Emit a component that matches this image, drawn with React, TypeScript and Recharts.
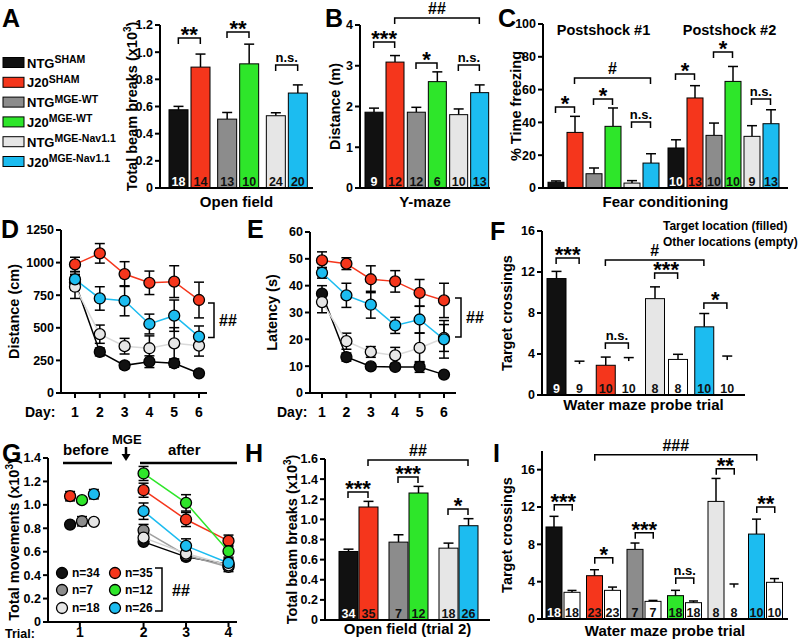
import React from 'react'
import {
  BarChart, Bar, XAxis, YAxis, ReferenceLine,
  LineChart, Line, ErrorBar, ScatterChart, Scatter,
} from 'recharts'

const FONT = '"Liberation Sans", Arial, Helvetica, sans-serif'
const BLACK = '#111111'
const RED = '#f5361c'
const GRAY = '#8c8c8c'
const GREEN = '#2ee62a'
const LGRAY = '#e6e6e6'
const BLUE = '#1cbcf0'
const WHITE = '#ffffff'

// A: open field
const condA = ['SHAM', 'MGE-WT', 'MGE-Nav1.1']
const ntgA = [0.576, 0.507, 0.532]
const ntgErrA = [0.025, 0.049, 0.022]
const ntgNA = [18, 13, 24]
const j20A = [0.89, 0.914, 0.699]
const j20ErrA = [0.096, 0.145, 0.06]
const j20NA = [14, 10, 20]

// B: Y-maze
const ntgB = [1.86, 1.86, 1.8]
const ntgErrB = [0.1, 0.12, 0.14]
const ntgNB = [9, 12, 10]
const j20B = [3.09, 2.61, 2.34]
const j20ErrB = [0.16, 0.24, 0.19]
const j20NB = [12, 6, 13]

// C: fear conditioning
const shockC = ['Postshock #1', 'Postshock #2']
const ntgShamC = [3.5, 24.4]
const ntgShamErrC = [0.8, 5]
const j20ShamC = [33.9, 54.9]
const j20ShamErrC = [9.8, 7.5]
const ntgWtC = [8.7, 32.1]
const ntgWtErrC = [3.5, 7.5]
const j20WtC = [37.6, 65]
const j20WtErrC = [11.2, 9.1]
const ntgNavC = [3, 31.5]
const ntgNavErrC = [1.5, 6.5]
const j20NavC = [15.2, 39.2]
const j20NavErrC = [5.7, 8.5]
const nC = [[null, 10], [null, 13], [null, 10], [null, 10], [null, 9], [null, 13]]

// D, E: water maze training
const days = [1, 2, 3, 4, 5, 6]
const distBlack = [850, 315, 212, 240, 228, 151]
const distBlackErr = [60, 30, 25, 45, 30, 20]
const distGray = [815, 451, 359, 343, 381, 363]
const distGrayErr = [90, 70, 60, 95, 120, 80]
const distBlue = [871, 725, 707, 529, 593, 432]
const distBlueErr = [60, 90, 115, 76, 120, 82]
const distRed = [986, 1071, 912, 845, 854, 713]
const distRedErr = [55, 75, 95, 90, 122, 137]

const latBlack = [37, 13.4, 9.9, 9.7, 9.7, 6.85]
const latBlackErr = [3, 1.5, 1, 1, 2, 1]
const latGray = [33.9, 19.3, 15.3, 14.0, 16.8, 20.5]
const latGrayErr = [4, 3, 2, 3, 5.5, 5]
const latBlue = [44.8, 36.4, 32.9, 25.2, 27.4, 20.0]
const latBlueErr = [2, 4.5, 5, 3, 5, 7]
const latRed = [49.4, 48.2, 42.4, 41.6, 37.3, 34.5]
const latRedErr = [3.2, 2.2, 5, 4, 5, 6.4]

// F: probe trial
const groupsF = ['NTG-SHAM', 'J20-SHAM', 'NTG-Nav1.1', 'J20-Nav1.1']
const targetF = [11.36, 2.9, 9.4, 6.65]
const targetErrF = [0.7, 0.8, 1.15, 1.3]
const otherF = [3.0, 3.3, 3.47, 3.4]
const otherErrF = [0.3, 0.35, 0.5, 0.4]
const nF = [9, 10, 8, 10]
const otherOutlineF = [false, false, true, false]

// G: total movements across trials
const trialX = [0.5, 2, 3, 4]
const trialLabels = ['1', '2', '3', '4']
const beforeX = [0.27, 0.55, 0.83]
const beforeNtg = [0.832, 0.86, 0.855]
const beforeNtgErr = [0.02, 0.04, 0.02]
const beforeJ20 = [1.074, 1.04, 1.091]
const beforeJ20Err = [0.04, 0.02, 0.04]
const afterNtgSham = [0.684, 0.556, 0.493]
const afterNtgShamErr = [0.02, 0.03, 0.04]
const afterNtgWt = [0.783, 0.57, 0.47]
const afterNtgWtErr = [0.05, 0.03, 0.04]
const afterNtgNav = [0.72, 0.584, 0.484]
const afterNtgNavErr = [0.04, 0.03, 0.03]
const afterJ20Sham = [1.125, 0.875, 0.692]
const afterJ20ShamErr = [0.06, 0.06, 0.05]
const afterJ20Wt = [1.268, 1.017, 0.604]
const afterJ20WtErr = [0.06, 0.07, 0.05]
const afterJ20Nav = [0.946, 0.65, 0.504]
const afterJ20NavErr = [0.07, 0.06, 0.04]
const nG = [34, 7, 18, 35, 12, 26]

// H: open field trial 2
const ntgH = [0.681, 0.774, 0.714]
const ntgErrH = [0.023, 0.073, 0.05]
const ntgNH = [34, 7, 18]
const j20H = [1.123, 1.262, 0.937]
const j20ErrH = [0.056, 0.066, 0.07]
const j20NH = [35, 12, 26]

// I: probe trial, all groups
const groupsI = ['NTG-SHAM', 'J20-SHAM', 'NTG-WT', 'J20-WT', 'NTG-Nav1.1', 'J20-Nav1.1']
const targetI = [9.86, 4.64, 7.46, 2.5, 12.6, 9.1]
const targetErrI = [1.14, 0.64, 0.68, 0.57, 2.46, 1.6]
const otherI = [2.86, 3.07, 1.89, 1.75, 3.35, 3.93]
const otherErrI = [0.2, 0.35, 0.1, 0.18, 0.4, 0.4]
const nI = [18, 23, 7, 18, 8, 10]
const otherOutlineI = [true, true, true, true, false, true]

const legendMain = ['NTG', 'J20', 'NTG', 'J20', 'NTG', 'J20']
const legendSup = ['SHAM', 'SHAM', 'MGE-WT', 'MGE-WT', 'MGE-Nav1.1', 'MGE-Nav1.1']
const legendFill = [BLACK, RED, GRAY, GREEN, LGRAY, BLUE]

const TICK = { fontSize: 12.5, fontWeight: 'bold', fill: '#000', fontFamily: FONT }
const XTICK = { fontSize: 14, fontWeight: 'bold', fill: '#000', fontFamily: FONT }
const AXIS = { stroke: '#000', strokeWidth: 2 }
const dec = (v: number) => (v === 0 ? '0' : v.toFixed(1))

type Series = { key: string; vals: number[]; errs: number[]; ns: (number | null)[]; fills: string[]; outline?: boolean[] }
type Bracket = { a: number[]; b: number[]; y: number; text: string }

function buildRows(cats: string[], series: Series[]) {
  return cats.map((name, i) => {
    const row: any = { name }
    series.forEach(s => {
      row[s.key] = s.vals[i]
      row[s.key + 'Err'] = s.errs[i]
      row[s.key + 'N'] = s.ns[i]
      row[s.key + 'Fill'] = s.fills[i]
      row[s.key + 'Line'] = s.outline ? s.outline[i] : true
    })
    return row
  })
}

const barShape = (key: string, cap: number) => (p: any) => {
  const { x, y, width, height, payload } = p
  const v = payload[key]
  const e = payload[key + 'Err']
  const ePx = v > 0 ? (e * height) / v : 0
  const cx = x + width / 2
  const fill = payload[key + 'Fill']
  const n = payload[key + 'N']
  return (
    <g>
      <line x1={cx} x2={cx} y1={y} y2={y - ePx} stroke="#000" strokeWidth={1.5} />
      <line x1={cx - cap} x2={cx + cap} y1={y - ePx} y2={y - ePx} stroke="#000" strokeWidth={1.5} />
      <rect x={x} y={y} width={width} height={height} fill={fill} stroke={payload[key + 'Line'] ? '#000' : 'none'} strokeWidth={1} />
      {n != null && (
        <text x={cx} y={y + height - 2} textAnchor="middle" fontSize={12.5} fontWeight="bold" fontFamily={FONT} fill={fill === BLACK ? '#fff' : '#111'}>{n}</text>
      )}
    </g>
  )
}

const bracketShape = (o1: number, o2: number, text: string) => (p: any) => {
  const x1 = p.x1 + o1
  const x2 = p.x2 + o2
  const y = p.y1
  const star = text.includes('*')
  const hash = text.includes('#')
  const fs = star ? 22 : hash ? 16 : 13
  return (
    <g>
      <polyline points={`${x1},${y + 6} ${x1},${y} ${x2},${y} ${x2},${y + 6}`} fill="none" stroke="#000" strokeWidth={1.5} />
      <text x={(x1 + x2) / 2} y={star ? y + 4 : hash ? y - 4 : y - 3} textAnchor="middle" fontSize={fs} fontWeight="bold" fontFamily={FONT} fill="#000">{text}</text>
    </g>
  )
}

const sideBracket = (dx: number) => (p: any) => {
  const x = p.x1 + dx
  return (
    <g>
      <polyline points={`${x - 6},${p.y1} ${x},${p.y1} ${x},${p.y2} ${x - 6},${p.y2}`} fill="none" stroke="#000" strokeWidth={1.5} />
      <text x={x + 5} y={(p.y1 + p.y2) / 2 + 6} fontSize={16} fontWeight="bold" fontFamily={FONT} fill="#000">##</text>
    </g>
  )
}

const yTitle = (text: string, cx: number, sup = false) => (p: any) => {
  const vb = p.viewBox || {}
  const x = (vb.x || 0) + cx
  const y = (vb.y || 0) + (vb.height || 0) / 2
  return (
    <text x={x} y={y} transform={`rotate(-90 ${x} ${y})`} textAnchor="middle" dominantBaseline="central" fontSize={14.5} fontWeight="bold" fontFamily={FONT} fill="#000">
      {text}
      {sup && <tspan> (x10</tspan>}
      {sup && <tspan dy={-5} fontSize={10}>3</tspan>}
      {sup && <tspan dy={5}>)</tspan>}
    </text>
  )
}

const xTitle = (text: string, dy: number) => (p: any) => {
  const vb = p.viewBox || {}
  return (
    <text x={(vb.x || 0) + (vb.width || 0) / 2} y={(vb.y || 0) + dy} textAnchor="middle" fontSize={15} fontWeight="bold" fontFamily={FONT} fill="#000">{text}</text>
  )
}

function GroupedBars(p: {
  left: number; top: number; width: number; height: number
  mTop: number; mRight: number; yWidth: number; xHeight: number; pad: number[]
  domain: number[]; ticks: number[]; fmt?: (v: number) => string
  yLabel: string; yLabelX: number; sup?: boolean
  xLabel: string; xLabelDy: number
  cats: string[]; series: Series[]; barSize: number; barGap: number; cap: number
  brackets: Bracket[]
}) {
  const rows = buildRows(p.cats, p.series)
  const k = p.series.length
  const off = (i: number) => (i - (k - 1) / 2) * (p.barSize + p.barGap)
  return (
    <div style={{ position: 'absolute', left: p.left, top: p.top }}>
      <BarChart width={p.width} height={p.height} data={rows} margin={{ top: p.mTop, right: p.mRight, left: 0, bottom: 0 }} barSize={p.barSize} barGap={p.barGap}>
        <XAxis dataKey="name" tick={false} tickLine={false} axisLine={AXIS} height={p.xHeight}
          padding={{ left: p.pad[0], right: p.pad[1] }} label={xTitle(p.xLabel, p.xLabelDy)} />
        <YAxis domain={p.domain} ticks={p.ticks} tickFormatter={p.fmt} width={p.yWidth} tick={TICK} tickLine={AXIS}
          axisLine={AXIS} tickSize={5} tickMargin={2} interval={0} allowDataOverflow
          label={yTitle(p.yLabel, p.yLabelX - p.left, p.sup)} />
        {p.series.map(s => (
          <Bar key={s.key} dataKey={s.key} shape={barShape(s.key, p.cap)} isAnimationActive={false} />
        ))}
        {p.brackets.map((b, i) => (
          <ReferenceLine key={i} ifOverflow="visible"
            segment={[{ x: p.cats[b.a[0]], y: b.y }, { x: p.cats[b.b[0]], y: b.y }]}
            shape={bracketShape(off(b.a[1]), off(b.b[1]), b.text)} />
        ))}
      </BarChart>
    </div>
  )
}

const dayDot = (fill: string) => (p: any) => (
  <circle key={`${fill}-${p.index}`} cx={p.cx} cy={p.cy} r={5.5} fill={fill} stroke="#000" strokeWidth={1.3} />
)

function DayLines(p: {
  left: number; mTop: number; mRight: number; width: number; yWidth: number; pad: number[]
  domain: number[]; ticks: number[]; yLabel: string; yLabelX: number
  black: number[]; blackErr: number[]; gray: number[]; grayErr: number[]
  blue: number[]; blueErr: number[]; red: number[]; redErr: number[]
  bracket: number[]; bracketDx: number
}) {
  const rows = days.map((d, i) => ({
    day: d,
    black: p.black[i], blackErr: p.blackErr[i],
    gray: p.gray[i], grayErr: p.grayErr[i],
    blue: p.blue[i], blueErr: p.blueErr[i],
    red: p.red[i], redErr: p.redErr[i],
  }))
  const lines = [
    { key: 'black', stroke: '#000', fill: BLACK },
    { key: 'gray', stroke: '#dadada', fill: LGRAY },
    { key: 'blue', stroke: BLUE, fill: BLUE },
    { key: 'red', stroke: RED, fill: RED },
  ]
  return (
    <div style={{ position: 'absolute', left: p.left, top: 210 }}>
      <LineChart width={p.width} height={215} data={rows} margin={{ top: p.mTop, right: p.mRight, left: 0, bottom: 0 }}>
        <XAxis dataKey="day" tick={XTICK} tickLine={AXIS} axisLine={AXIS} tickSize={5} tickMargin={9} height={215 - (393 - 210)}
          padding={{ left: p.pad[0], right: p.pad[1] }} interval={0} />
        <YAxis domain={p.domain} ticks={p.ticks} width={p.yWidth} tick={TICK} tickLine={AXIS} axisLine={AXIS}
          tickSize={5} tickMargin={2} interval={0} label={yTitle(p.yLabel, p.yLabelX - p.left)} />
        {lines.map(l => (
          <Line key={l.key} dataKey={l.key} stroke={l.stroke} strokeWidth={1.5} dot={dayDot(l.fill)} activeDot={false} isAnimationActive={false}>
            <ErrorBar dataKey={l.key + 'Err'} width={5} stroke="#000" strokeWidth={1.5} />
          </Line>
        ))}
        <ReferenceLine ifOverflow="visible" segment={[{ x: 6, y: p.bracket[0] }, { x: 6, y: p.bracket[1] }]} shape={sideBracket(p.bracketDx)} />
      </LineChart>
    </div>
  )
}

const scatterDot = (p: any) => (
  <circle cx={p.cx} cy={p.cy} r={5.5} fill={p.payload.fill} stroke="#000" strokeWidth={1.3} />
)

function PanelG() {
  const before = [
    ...beforeX.map((x, i) => ({ x, y: beforeNtg[i], e: beforeNtgErr[i], fill: [BLACK, GRAY, LGRAY][i] })),
    ...beforeX.map((x, i) => ({ x, y: beforeJ20[i], e: beforeJ20Err[i], fill: [RED, GREEN, BLUE][i] })),
  ]
  const after = [
    { vals: afterNtgSham, errs: afterNtgShamErr, fill: BLACK, line: '#000' },
    { vals: afterNtgWt, errs: afterNtgWtErr, fill: GRAY, line: '#a0a0a0' },
    { vals: afterNtgNav, errs: afterNtgNavErr, fill: LGRAY, line: '#d0d0d0' },
    { vals: afterJ20Sham, errs: afterJ20ShamErr, fill: RED, line: RED },
    { vals: afterJ20Wt, errs: afterJ20WtErr, fill: GREEN, line: GREEN },
    { vals: afterJ20Nav, errs: afterJ20NavErr, fill: BLUE, line: BLUE },
  ]
  return (
    <div style={{ position: 'absolute', left: 0, top: 420 }}>
      <ScatterChart width={245} height={223} margin={{ top: 38, right: 8, left: 0, bottom: 0 }}>
        <XAxis type="number" dataKey="x" domain={[-0.25, 4.2]} ticks={trialX} interval={0}
          tickFormatter={(v: number) => trialLabels[trialX.indexOf(v)]} tick={XTICK} tickLine={AXIS} axisLine={AXIS}
          tickSize={5} tickMargin={0} height={21} allowDataOverflow />
        <YAxis type="number" dataKey="y" domain={[0, 1.4]} ticks={[0, 0.2, 0.4, 0.6, 0.8, 1.0, 1.2, 1.4]} tickFormatter={dec}
          width={48} tick={TICK} tickLine={AXIS} axisLine={AXIS} tickSize={5} tickMargin={2} interval={0} allowDataOverflow
          label={yTitle('Total movements', 14, true)} />
        <Scatter data={before} shape={scatterDot} isAnimationActive={false}>
          <ErrorBar dataKey="e" direction="y" width={5} stroke="#000" strokeWidth={1.5} />
        </Scatter>
        {after.map((s, j) => (
          <Scatter key={j} data={s.vals.map((v, i) => ({ x: trialX[i + 1], y: v, e: s.errs[i], fill: s.fill }))}
            line={{ stroke: s.line, strokeWidth: 1.5 }} shape={scatterDot} isAnimationActive={false}>
            <ErrorBar dataKey="e" direction="y" width={5} stroke="#000" strokeWidth={1.5} />
          </Scatter>
        ))}
      </ScatterChart>
    </div>
  )
}

function Overlay() {
  const letters = [
    ['A', 2, 27], ['B', 325, 27], ['C', 498, 27], ['D', 1, 238], ['E', 247, 238],
    ['F', 490, 240], ['G', 2, 462], ['H', 245, 462], ['I', 493, 462],
  ]
  const gFills = [BLACK, GRAY, LGRAY, RED, GREEN, BLUE]
  const gRows = [573, 590, 608]
  return (
    <svg width={800} height={643} style={{ position: 'absolute', left: 0, top: 0, pointerEvents: 'none' }}
      fontFamily={FONT} fontWeight="bold" fill="#000">
      {letters.map(([t, x, y]) => (
        <text key={t as string} x={x as number} y={y as number} fontSize={25}>{t}</text>
      ))}
      {legendMain.map((m, i) => {
        const top = 57.5 + i * 19.8
        return (
          <g key={i}>
            <rect x={3} y={top} width={21} height={10} fill={legendFill[i]} stroke="#000" strokeWidth={1} />
            <text x={27} y={top + 10} fontSize={13}>{m}<tspan fontSize={10.5} dy={-4.5}>{legendSup[i]}</tspan></text>
          </g>
        )
      })}
      <text x={603.5} y={35} fontSize={14.5} textAnchor="middle">Postshock #1</text>
      <text x={729.5} y={35} fontSize={14.5} textAnchor="middle">Postshock #2</text>
      <text x={25} y={417} fontSize={14}>Day:</text>
      <text x={277} y={417} fontSize={14}>Day:</text>
      <text x={663} y={230} fontSize={12}>Target location (filled)</text>
      <text x={663} y={246} fontSize={12}>Other locations (empty)</text>
      <text x={5} y={638} fontSize={12.5}>Trial:</text>
      <text x={63} y={455} fontSize={15}>before</text>
      <line x1={63} x2={112} y1={463} y2={463} stroke="#000" strokeWidth={2.5} />
      <text x={112} y={444} fontSize={13}>MGE</text>
      <line x1={126} x2={126} y1={447} y2={455} stroke="#000" strokeWidth={2.5} />
      <polygon points="121.5,454 130.5,454 126,461" fill="#000" />
      <text x={168} y={455} fontSize={15}>after</text>
      <line x1={140} x2={237} y1={463} y2={463} stroke="#000" strokeWidth={2.5} />
      {nG.map((n, i) => {
        const cx = i < 3 ? 62 : 115
        const cy = gRows[i % 3]
        return (
          <g key={i}>
            <circle cx={cx} cy={cy} r={5.5} fill={gFills[i]} stroke="#000" strokeWidth={1.3} />
            <text x={cx + 10} y={cy + 4.3} fontSize={12}>n={n}</text>
          </g>
        )
      })}
      <polyline points="155,568 162,568 162,611 155,611" fill="none" stroke="#000" strokeWidth={1.5} />
      <text x={172} y={596} fontSize={16}>##</text>
    </svg>
  )
}

export default function App() {
  const pairSeries = (ntg: number[], ntgErr: number[], ntgN: number[], j20: number[], j20Err: number[], j20N: number[]): Series[] => [
    { key: 'ntg', vals: ntg, errs: ntgErr, ns: ntgN, fills: [BLACK, GRAY, LGRAY] },
    { key: 'j20', vals: j20, errs: j20Err, ns: j20N, fills: [RED, GREEN, BLUE] },
  ]
  const seriesC: Series[] = [
    { key: 'ntgSham', vals: ntgShamC, errs: ntgShamErrC, ns: nC[0], fills: [BLACK, BLACK] },
    { key: 'j20Sham', vals: j20ShamC, errs: j20ShamErrC, ns: nC[1], fills: [RED, RED] },
    { key: 'ntgWt', vals: ntgWtC, errs: ntgWtErrC, ns: nC[2], fills: [GRAY, GRAY] },
    { key: 'j20Wt', vals: j20WtC, errs: j20WtErrC, ns: nC[3], fills: [GREEN, GREEN] },
    { key: 'ntgNav', vals: ntgNavC, errs: ntgNavErrC, ns: nC[4], fills: [LGRAY, LGRAY] },
    { key: 'j20Nav', vals: j20NavC, errs: j20NavErrC, ns: nC[5], fills: [BLUE, BLUE] },
  ]
  const seriesF: Series[] = [
    { key: 'target', vals: targetF, errs: targetErrF, ns: nF, fills: [BLACK, RED, LGRAY, BLUE] },
    { key: 'other', vals: otherF, errs: otherErrF, ns: nF, fills: groupsF.map(() => WHITE), outline: otherOutlineF },
  ]
  const seriesI: Series[] = [
    { key: 'target', vals: targetI, errs: targetErrI, ns: nI, fills: [BLACK, RED, GRAY, GREEN, LGRAY, BLUE] },
    { key: 'other', vals: otherI, errs: otherErrI, ns: nI, fills: groupsI.map(() => WHITE), outline: otherOutlineI },
  ]
  return (
    <div style={{ position: 'absolute', left: 0, top: 0, width: 800, height: 643, background: '#fff', overflow: 'hidden', fontFamily: FONT }}>
      <GroupedBars left={100} top={0} width={220} height={215} mTop={25} mRight={7} yWidth={60} xHeight={27} pad={[5, 2]}
        domain={[0, 1.2]} ticks={[0, 0.2, 0.4, 0.6, 0.8, 1.0, 1.2]} fmt={dec}
        yLabel="Total beam breaks" yLabelX={132} sup xLabel="Open field" xLabelDy={19}
        cats={condA} series={pairSeries(ntgA, ntgErrA, ntgNA, j20A, j20ErrA, j20NA)} barSize={19} barGap={3} cap={5}
        brackets={[
          { a: [0, 0], b: [0, 1], y: 1.105, text: '**' },
          { a: [1, 0], b: [1, 1], y: 1.149, text: '**' },
          { a: [2, 0], b: [2, 1], y: 0.906, text: 'n.s.' },
        ]} />
      <GroupedBars left={320} top={0} width={175} height={215} mTop={25} mRight={5} yWidth={40} xHeight={27} pad={[3, 0]}
        domain={[0, 4]} ticks={[0, 1, 2, 3, 4]}
        yLabel="Distance (m)" yLabelX={335} xLabel="Y-maze" xLabelDy={19}
        cats={condA} series={pairSeries(ntgB, ntgErrB, ntgNB, j20B, j20ErrB, j20NB)} barSize={18} barGap={3} cap={5}
        brackets={[
          { a: [0, 0], b: [0, 1], y: 3.58, text: '***' },
          { a: [1, 0], b: [1, 1], y: 3.07, text: '*' },
          { a: [2, 0], b: [2, 1], y: 3.02, text: 'n.s.' },
          { a: [0, 1], b: [2, 1], y: 4.17, text: '##' },
        ]} />
      <GroupedBars left={500} top={0} width={295} height={215} mTop={24} mRight={7} yWidth={43} xHeight={27} pad={[0, 5]}
        domain={[0, 100]} ticks={[0, 20, 40, 60, 80, 100]}
        yLabel="% Time freezing" yLabelX={516} xLabel="Fear conditioning" xLabelDy={19}
        cats={shockC} series={seriesC} barSize={16} barGap={3} cap={5}
        brackets={[
          { a: [0, 0], b: [0, 1], y: 49.4, text: '*' },
          { a: [0, 2], b: [0, 3], y: 54.3, text: '*' },
          { a: [0, 4], b: [0, 5], y: 40.2, text: 'n.s.' },
          { a: [0, 1], b: [0, 5], y: 67.1, text: '#' },
          { a: [1, 0], b: [1, 1], y: 69.5, text: '*' },
          { a: [1, 2], b: [1, 3], y: 82.9, text: '*' },
          { a: [1, 4], b: [1, 5], y: 54.3, text: 'n.s.' },
        ]} />
      <DayLines left={0} width={250} mTop={20} mRight={43} yWidth={61} pad={[14, 8]}
        domain={[0, 1250]} ticks={[0, 250, 500, 750, 1000, 1250]} yLabel="Distance (cm)" yLabelX={14}
        black={distBlack} blackErr={distBlackErr} gray={distGray} grayErr={distGrayErr}
        blue={distBlue} blueErr={distBlueErr} red={distRed} redErr={distRedErr}
        bracket={[690, 425]} bracketDx={15} />
      <DayLines left={260} width={232} mTop={22} mRight={36} yWidth={50} pad={[12, 12]}
        domain={[0, 60]} ticks={[0, 10, 20, 30, 40, 50, 60]} yLabel="Latency (s)" yLabelX={272}
        black={latBlack} blackErr={latBlackErr} gray={latGray} grayErr={latGrayErr}
        blue={latBlue} blueErr={latBlueErr} red={latRed} redErr={latRedErr}
        bracket={[35.4, 20.9]} bracketDx={17} />
      <GroupedBars left={495} top={210} width={305} height={212} mTop={21} mRight={55} yWidth={47} xHeight={27} pad={[1, 5]}
        domain={[0, 16]} ticks={[0, 4, 8, 12, 16]}
        yLabel="Target crossings" yLabelX={507} xLabel="Water maze probe trial" xLabelDy={15}
        cats={groupsF} series={seriesF} barSize={19} barGap={4} cap={5}
        brackets={[
          { a: [0, 0], b: [0, 1], y: 13.37, text: '***' },
          { a: [1, 0], b: [1, 1], y: 5.07, text: 'n.s.' },
          { a: [2, 0], b: [2, 1], y: 11.9, text: '***' },
          { a: [3, 0], b: [3, 1], y: 8.98, text: '*' },
          { a: [1, 0], b: [3, 0], y: 13.17, text: '#' },
        ]} />
      <PanelG />
      <GroupedBars left={265} top={420} width={230} height={223} mTop={39} mRight={5} yWidth={60} xHeight={23} pad={[8, 7]}
        domain={[0, 1.6]} ticks={[0, 0.2, 0.4, 0.6, 0.8, 1.0, 1.2, 1.4, 1.6]} fmt={dec}
        yLabel="Total beam breaks" yLabelX={292} sup xLabel="Open field (trial 2)" xLabelDy={14}
        cats={condA} series={pairSeries(ntgH, ntgErrH, ntgNH, j20H, j20ErrH, j20NH)} barSize={19} barGap={1} cap={5}
        brackets={[
          { a: [0, 0], b: [0, 1], y: 1.272, text: '***' },
          { a: [1, 0], b: [1, 1], y: 1.421, text: '***' },
          { a: [2, 0], b: [2, 1], y: 1.103, text: '*' },
          { a: [0, 1], b: [2, 1], y: 1.59, text: '##' },
        ]} />
      <GroupedBars left={495} top={420} width={300} height={223} mTop={31} mRight={7} yWidth={47} xHeight={24} pad={[1, 2]}
        domain={[0, 18]} ticks={[0, 4, 8, 12, 16]}
        yLabel="Target crossings" yLabelX={507} xLabel="Water maze probe trial" xLabelDy={17}
        cats={groupsI} series={seriesI} barSize={16} barGap={2} cap={4.5}
        brackets={[
          { a: [0, 0], b: [0, 1], y: 12.24, text: '***' },
          { a: [1, 0], b: [1, 1], y: 6.55, text: '*' },
          { a: [2, 0], b: [2, 1], y: 9.24, text: '***' },
          { a: [3, 0], b: [3, 1], y: 4.4, text: 'n.s.' },
          { a: [4, 0], b: [4, 1], y: 16.1, text: '**' },
          { a: [5, 0], b: [5, 1], y: 12.0, text: '**' },
          { a: [1, 0], b: [5, 0], y: 17.6, text: '###' },
        ]} />
      <Overlay />
    </div>
  )
}
